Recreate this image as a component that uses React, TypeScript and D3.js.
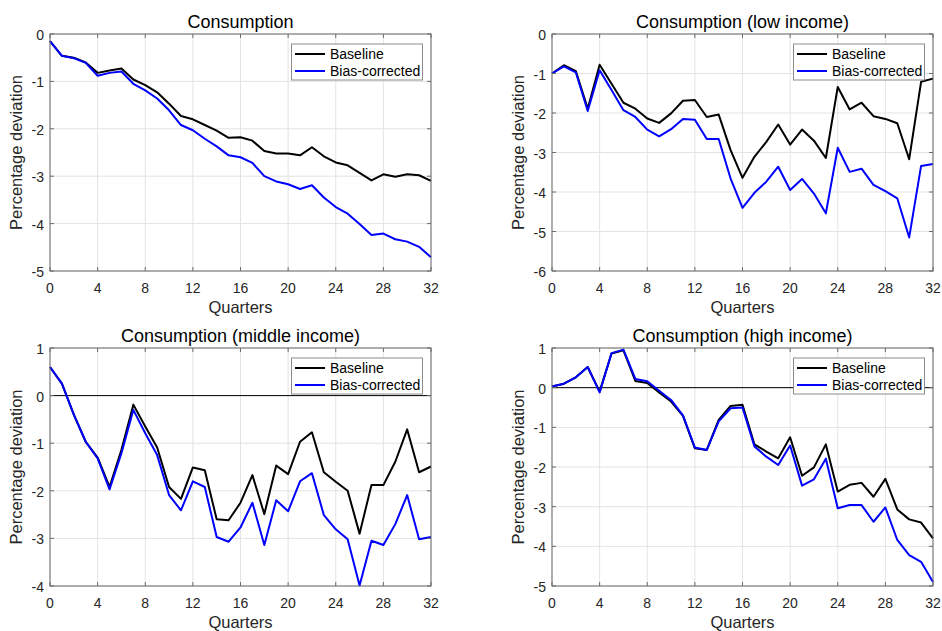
import React from "react";
import * as d3 from "d3";

// Quarters after the shock
const quarters = [0, 1, 2, 3, 4, 5, 6, 7, 8, 9, 10, 11, 12, 13, 14, 15, 16, 17, 18, 19, 20, 21, 22, 23, 24, 25, 26, 27, 28, 29, 30, 31, 32];
const xTicks = [0, 4, 8, 12, 16, 20, 24, 28, 32];

// Consumption (aggregate)
const allBaseline = [-0.15, -0.46, -0.5, -0.6, -0.82, -0.77, -0.73, -0.96, -1.08, -1.23, -1.47, -1.73, -1.8, -1.92, -2.04, -2.19, -2.18, -2.25, -2.47, -2.52, -2.52, -2.56, -2.39, -2.58, -2.71, -2.77, -2.93, -3.09, -2.96, -3.01, -2.96, -2.98, -3.1];
const allBias = [-0.15, -0.46, -0.51, -0.61, -0.88, -0.82, -0.79, -1.05, -1.19, -1.36, -1.61, -1.92, -2.03, -2.21, -2.37, -2.56, -2.6, -2.72, -3.0, -3.11, -3.17, -3.27, -3.19, -3.45, -3.65, -3.79, -4.01, -4.24, -4.21, -4.33, -4.38, -4.49, -4.71];

// Low income
const lowBaseline = [-1.0, -0.79, -0.94, -1.89, -0.78, -1.26, -1.74, -1.89, -2.14, -2.25, -2.01, -1.69, -1.67, -2.1, -2.04, -2.94, -3.64, -3.11, -2.73, -2.29, -2.8, -2.42, -2.7, -3.14, -1.34, -1.91, -1.74, -2.08, -2.15, -2.26, -3.17, -1.21, -1.13];
const lowBias = [-1.0, -0.82, -0.97, -1.95, -0.92, -1.42, -1.93, -2.1, -2.42, -2.59, -2.41, -2.15, -2.17, -2.66, -2.66, -3.66, -4.4, -4.02, -3.74, -3.36, -3.95, -3.67, -4.04, -4.54, -2.88, -3.49, -3.41, -3.82, -3.98, -4.16, -5.15, -3.34, -3.29];

// Middle income
const midBaseline = [0.6, 0.25, -0.4, -0.97, -1.3, -1.92, -1.14, -0.19, -0.65, -1.09, -1.92, -2.17, -1.51, -1.57, -2.6, -2.62, -2.25, -1.67, -2.49, -1.47, -1.65, -0.97, -0.77, -1.61, -1.81, -2.0, -2.9, -1.88, -1.88, -1.39, -0.71, -1.61, -1.49];
const midBias = [0.6, 0.25, -0.4, -0.97, -1.32, -1.97, -1.21, -0.3, -0.79, -1.25, -2.09, -2.41, -1.8, -1.92, -2.97, -3.07, -2.77, -2.25, -3.14, -2.2, -2.43, -1.8, -1.63, -2.51, -2.81, -3.02, -3.99, -3.05, -3.14, -2.7, -2.09, -3.02, -2.97];

// High income
const highBaseline = [0.03, 0.1, 0.26, 0.52, -0.1, 0.86, 0.94, 0.17, 0.12, -0.12, -0.35, -0.71, -1.53, -1.57, -0.81, -0.46, -0.43, -1.43, -1.61, -1.78, -1.25, -2.22, -2.01, -1.43, -2.62, -2.45, -2.4, -2.75, -2.3, -3.07, -3.32, -3.4, -3.8];
const highBias = [0.03, 0.1, 0.26, 0.52, -0.12, 0.87, 0.96, 0.22, 0.16, -0.08, -0.31, -0.7, -1.51, -1.57, -0.85, -0.52, -0.5, -1.48, -1.74, -1.95, -1.46, -2.47, -2.31, -1.79, -3.04, -2.96, -2.96, -3.38, -3.02, -3.84, -4.22, -4.39, -4.9];

const titles = ["Consumption", "Consumption (low income)", "Consumption (middle income)", "Consumption (high income)"];
const yDomains: [number, number][] = [[-5, 0], [-6, 0], [-4, 1], [-5, 1]];
const seriesNames = ["Baseline", "Bias-corrected"];
const seriesColors = ["#000000", "#0000ff"];

const panelData = [
  [allBaseline, allBias],
  [lowBaseline, lowBias],
  [midBaseline, midBias],
  [highBaseline, highBias],
];

const FONT = "'Liberation Sans', Arial, Helvetica, sans-serif";
const AXIS = "#6b6b6b";
const GRID = "#e3e3e3";
const TEXT = "#262626";

// plot frames for the 2x2 layout
const frames = [
  { x0: 50, x1: 431, y0: 34, y1: 271 },
  { x0: 552, x1: 933, y0: 34, y1: 271 },
  { x0: 50, x1: 431, y0: 348, y1: 586 },
  { x0: 552, x1: 933, y0: 348, y1: 586 },
];

function Panel({ idx }: { idx: number }) {
  const f = frames[idx];
  const [lo, hi] = yDomains[idx];
  const x = d3.scaleLinear().domain([0, 32]).range([f.x0, f.x1]);
  const y = d3.scaleLinear().domain([lo, hi]).range([f.y1, f.y0]);
  const yTicks = d3.range(lo, hi + 1);
  const line = d3
    .line<number>()
    .x((_, i) => x(quarters[i]))
    .y((d) => y(d));
  const tickLen = 4;
  const lg = { x: f.x1 - 139.5, y: f.y0 + 10, w: 131, h: 36 };

  return (
    <g>
      {/* grid */}
      {xTicks.map((t) => (
        <line key={"gx" + t} x1={x(t)} x2={x(t)} y1={f.y0} y2={f.y1} stroke={GRID} strokeWidth={1} />
      ))}
      {yTicks.map((t) => (
        <line key={"gy" + t} x1={f.x0} x2={f.x1} y1={y(t)} y2={y(t)} stroke={GRID} strokeWidth={1} />
      ))}
      {/* zero reference line */}
      {lo < 0 && hi > 0 && (
        <line x1={f.x0} x2={f.x1} y1={y(0)} y2={y(0)} stroke="#000" strokeWidth={1} />
      )}
      {/* series */}
      {panelData[idx].map((s, k) => (
        <path key={k} d={line(s) || ""} fill="none" stroke={seriesColors[k]} strokeWidth={2} strokeLinejoin="round" />
      ))}
      {/* axes box and ticks */}
      <rect x={f.x0} y={f.y0} width={f.x1 - f.x0} height={f.y1 - f.y0} fill="none" stroke={AXIS} strokeWidth={1} />
      {xTicks.map((t) => (
        <g key={"tx" + t}>
          <line x1={x(t)} x2={x(t)} y1={f.y1} y2={f.y1 - tickLen} stroke={AXIS} />
          <line x1={x(t)} x2={x(t)} y1={f.y0} y2={f.y0 + tickLen} stroke={AXIS} />
          <text x={x(t)} y={f.y1 + 22} textAnchor="middle" fontSize={14} fill={TEXT} fontFamily={FONT}>
            {t}
          </text>
        </g>
      ))}
      {yTicks.map((t) => (
        <g key={"ty" + t}>
          <line x1={f.x0} x2={f.x0 + tickLen} y1={y(t)} y2={y(t)} stroke={AXIS} />
          <line x1={f.x1} x2={f.x1 - tickLen} y1={y(t)} y2={y(t)} stroke={AXIS} />
          <text x={f.x0 - 6} y={y(t) + 6} textAnchor="end" fontSize={14} fill={TEXT} fontFamily={FONT}>
            {t < 0 ? "-" + Math.abs(t) : String(t)}
          </text>
        </g>
      ))}
      {/* title and axis labels */}
      <text x={(f.x0 + f.x1) / 2} y={f.y0 - 6} textAnchor="middle" fontSize={18} fill="#000" fontFamily={FONT}>
        {titles[idx]}
      </text>
      <text x={(f.x0 + f.x1) / 2} y={f.y1 + 42} textAnchor="middle" fontSize={16.5} fill={TEXT} fontFamily={FONT}>
        Quarters
      </text>
      <text
        transform={`translate(${f.x0 - 28},${(f.y0 + f.y1) / 2}) rotate(-90)`}
        textAnchor="middle"
        fontSize={16.5}
        fill={TEXT}
        fontFamily={FONT}
      >
        Percentage deviation
      </text>
      {/* legend */}
      <rect x={lg.x} y={lg.y} width={lg.w} height={lg.h} fill="#fff" stroke="#8c8c8c" strokeWidth={1} />
      {seriesNames.map((n, k) => (
        <g key={n}>
          <line
            x1={lg.x + 3.5}
            x2={lg.x + 33.5}
            y1={lg.y + 10 + k * 17}
            y2={lg.y + 10 + k * 17}
            stroke={seriesColors[k]}
            strokeWidth={2}
          />
          <text x={lg.x + 38.5} y={lg.y + 15 + k * 17} fontSize={14} fill="#000" fontFamily={FONT}>
            {n}
          </text>
        </g>
      ))}
    </g>
  );
}

export default function App() {
  return (
    <svg
      width={942}
      height={631}
      viewBox="0 0 942 631"
      style={{ position: "absolute", left: 0, top: 0, background: "#fff" }}
    >
      <rect x={0} y={0} width={942} height={631} fill="#fff" />
      {[0, 1, 2, 3].map((i) => (
        <Panel key={i} idx={i} />
      ))}
    </svg>
  );
}
